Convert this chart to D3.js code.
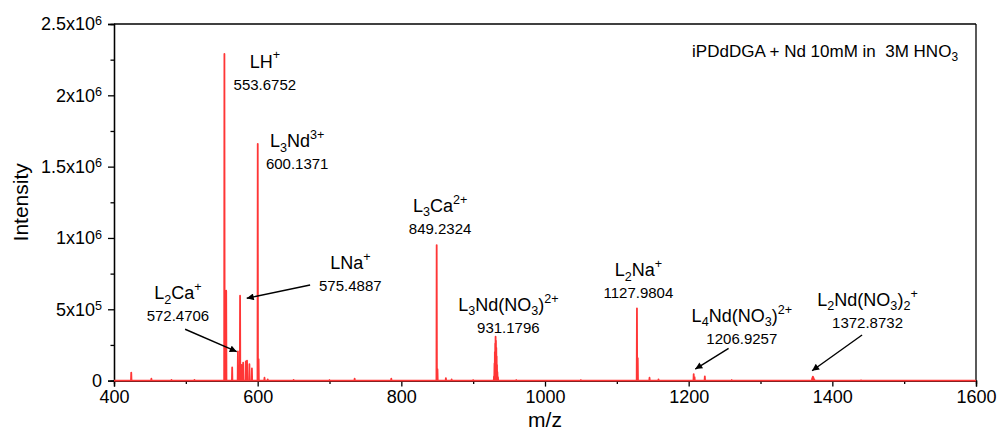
<!DOCTYPE html>
<html>
<head>
<meta charset="utf-8">
<script src="https://cdn.jsdelivr.net/npm/d3@7"></script>
<style>
  body { margin: 0; background: #fff; }
  svg text { font-family: Arial, "Liberation Sans", sans-serif; fill: #000; }
</style>
</head>
<body>
<svg id="chart" width="998" height="431"></svg>
<script>
// mass spectrum, iPDdDGA + Nd

// peak list (m/z, intensity)
const peakMz = [424, 452, 480, 512, 553.7, 556.2, 564.5, 572.5, 575.5, 577.5, 579.8, 583.5, 585.2,
                588.5, 592, 600.1, 601.3, 609.5, 614, 650, 700, 735, 786, 849.2, 850.3, 862, 870, 900,
                929, 929.7, 930.2, 930.7, 931.2, 931.7, 932.2, 932.7, 933.2, 933.7, 934.5,
                960, 1050, 1128, 1129.1, 1145.5, 1158, 1207, 1208.2, 1222.5, 1260,
                1371.9, 1372.4, 1372.9, 1373.4, 1373.9, 1374.9, 1440];
const peakInt = [56000, 13000, 5000, 5000, 2290000, 630000, 92000, 205000, 595000, 110000, 125000, 135000, 140000,
                 115000, 85000, 1660000, 150000, 20000, 8000, 5000, 4000, 14000, 14000, 950000, 80000, 18000, 8000, 4000,
                 30000, 120000, 200000, 260000, 308000, 280000, 230000, 170000, 110000, 60000, 25000,
                 4000, 4000, 507000, 158000, 20000, 8000, 46000, 25000, 30000, 4000,
                 15000, 22000, 28000, 25000, 18000, 9000, 3000];

const xTicks = [400, 600, 800, 1000, 1200, 1400, 1600];
const xMinor = [500, 700, 900, 1100, 1300, 1500];
const yTicks = [0, 5e5, 1e6, 1.5e6, 2e6, 2.5e6];
const yMinor = [2.5e5, 7.5e5, 1.25e6, 1.75e6, 2.25e6];
const yTickLabels = [["0", ""], ["5x10", "5"], ["1x10", "6"], ["1.5x10", "6"], ["2x10", "6"], ["2.5x10", "6"]];

// annotations: formula pieces (0 normal, -1 subscript, 1 superscript) and the m/z value
const labelParts = [
  [["LH", 0], ["+", 1]],
  [["L", 0], ["3", -1], ["Nd", 0], ["3+", 1]],
  [["LNa", 0], ["+", 1]],
  [["L", 0], ["2", -1], ["Ca", 0], ["+", 1]],
  [["L", 0], ["3", -1], ["Ca", 0], ["2+", 1]],
  [["L", 0], ["3", -1], ["Nd(NO", 0], ["3", -1], [")", 0], ["2+", 1]],
  [["L", 0], ["2", -1], ["Na", 0], ["+", 1]],
  [["L", 0], ["4", -1], ["Nd(NO", 0], ["3", -1], [")", 0], ["2+", 1]],
  [["L", 0], ["2", -1], ["Nd(NO", 0], ["3", -1], [")", 0], ["2", -1], ["+", 1]]
];
const labelMass = ["553.6752", "600.1371", "575.4887", "572.4706", "849.2324", "931.1796",
                   "1127.9804", "1206.9257", "1372.8732"];
// where each label sits, in data units (m/z, intensity)
const labelAtMz = [610, 655, 729, 489, 854, 949, 1130, 1274, 1449];
const labelAtInt = [2195000, 1637000, 783000, 572000, 1182000, 488000, 733000, 411000, 523000];
// arrows: start and end in data units
const arrowFrom = [[499, 360000], [673, 670000], [1255.6, 226000], [1441.4, 320000]];
const arrowTo = [[570.9, 203000], [584.8, 577000], [1209.2, 81000], [1371.8, 69000]];

const titleText = "iPDdDGA + Nd 10mM in\u00a0 3M HNO";

const margin = {left: 114, right: 22, top: 24, bottom: 50};
const W = 998, H = 431;
const svg = d3.select("#chart");

const x = d3.scaleLinear().domain([400, 1600]).range([margin.left, W - margin.right]);
const y = d3.scaleLinear().domain([0, 2.5e6]).range([H - margin.bottom - 0.4, margin.top]);

const g = svg.append("g");

// spectrum as sticks over a zero baseline
const pts = [[400, 0]];
peakMz.forEach((m, i) => {
  pts.push([m - 0.35, 0], [m, peakInt[i]], [m + 0.35, 0]);
});
pts.push([1600, 0]);
pts.sort((a, b) => a[0] - b[0]);

const line = d3.line().x(d => x(d[0])).y(d => y(d[1]));

// axes
const xAxis = d3.axisBottom(x).tickValues(xTicks).tickSize(6).tickPadding(4).tickFormat(d3.format("d"));
const xAxisMinor = d3.axisBottom(x).tickValues(xMinor).tickSize(3.5).tickFormat("");
const yAxis = d3.axisLeft(y).tickValues(yTicks).tickSize(6).tickPadding(6);
const yAxisMinor = d3.axisLeft(y).tickValues(yMinor).tickSize(3.5).tickFormat("");

const gx = g.append("g").attr("transform", `translate(0,${y(0)})`).call(xAxis);
g.append("g").attr("transform", `translate(0,${y(0)})`).call(xAxisMinor);
const gy = g.append("g").attr("transform", `translate(${x(400)},0)`).call(yAxis);
g.append("g").attr("transform", `translate(${x(400)},0)`).call(yAxisMinor);

g.selectAll(".domain").attr("stroke", "#000").attr("stroke-width", 1.3);
g.selectAll(".tick line").attr("stroke", "#000").attr("stroke-width", 1.3);
gx.selectAll("text").attr("font-size", 18).attr("font-family", null);
gy.selectAll("text").attr("font-size", 18).attr("font-family", null)
  .text(null)
  .each(function (d, i) {
    const t = d3.select(this);
    t.append("tspan").text(yTickLabels[i][0]);
    if (yTickLabels[i][1]) t.append("tspan").attr("dy", "-0.45em").attr("font-size", "0.7em").text(yTickLabels[i][1]);
  });

// frame top and right
g.append("line").attr("x1", x(400)).attr("x2", x(1600)).attr("y1", y(2.5e6)).attr("y2", y(2.5e6))
  .attr("stroke", "#000").attr("stroke-width", 1.3);
g.append("line").attr("x1", x(1600)).attr("x2", x(1600)).attr("y1", y(2.5e6)).attr("y2", y(0))
  .attr("stroke", "#000").attr("stroke-width", 1.3);

g.append("path").datum(pts).attr("d", line)
  .attr("fill", "none").attr("stroke", "#ff3636").attr("stroke-width", 1.8)
  .attr("stroke-linejoin", "round");

// axis titles
svg.append("text").attr("x", (x(400) + x(1600)) / 2).attr("y", 427)
  .attr("text-anchor", "middle").attr("font-size", 21).text("m/z");
svg.append("text").attr("transform", `translate(28,${(y(0) + y(2.5e6)) / 2}) rotate(-90)`)
  .attr("text-anchor", "middle").attr("font-size", 21).text("Intensity");

// title in the corner
const tt = svg.append("text").attr("x", 958).attr("y", 57).attr("text-anchor", "end").attr("font-size", 17);
tt.append("tspan").text(titleText);
tt.append("tspan").attr("dy", "0.3em").attr("font-size", "0.7em").text("3");

// formula labels
function formula(sel, parts) {
  let shift = 0;
  parts.forEach(p => {
    const target = p[1] == 1 ? -0.45 : (p[1] == -1 ? 0.25 : 0);
    const sz = p[1] == 0 ? 1 : 0.7;
    // dy is in em of the tspan itself
    const ts = sel.append("tspan").text(p[0]).attr("font-size", sz + "em");
    ts.attr("dy", ((target - shift) / sz).toFixed(3) + "em");
    shift = target;
  });
}

labelParts.forEach((parts, i) => {
  const cx = x(labelAtMz[i]), cy = y(labelAtInt[i]);
  const t = svg.append("text").attr("x", cx).attr("y", cy).attr("text-anchor", "middle").attr("font-size", 18);
  formula(t, parts);
  svg.append("text").attr("x", cx).attr("y", cy + 22).attr("text-anchor", "middle")
    .attr("font-size", 15).text(labelMass[i]);
});

// arrows
svg.append("defs").append("marker").attr("id", "head")
  .attr("viewBox", "0 0 10 10").attr("refX", 10).attr("refY", 5)
  .attr("markerWidth", 9).attr("markerHeight", 7).attr("markerUnits", "userSpaceOnUse")
  .attr("orient", "auto")
  .append("path").attr("d", "M0,0 L10,5 L0,10 z").attr("fill", "#000");

arrowFrom.forEach((a, i) => {
  svg.append("line")
    .attr("x1", x(a[0])).attr("y1", y(a[1]))
    .attr("x2", x(arrowTo[i][0])).attr("y2", y(arrowTo[i][1]))
    .attr("stroke", "#000").attr("stroke-width", 1.4).attr("marker-end", "url(#head)");
});
</script>
</body>
</html>
